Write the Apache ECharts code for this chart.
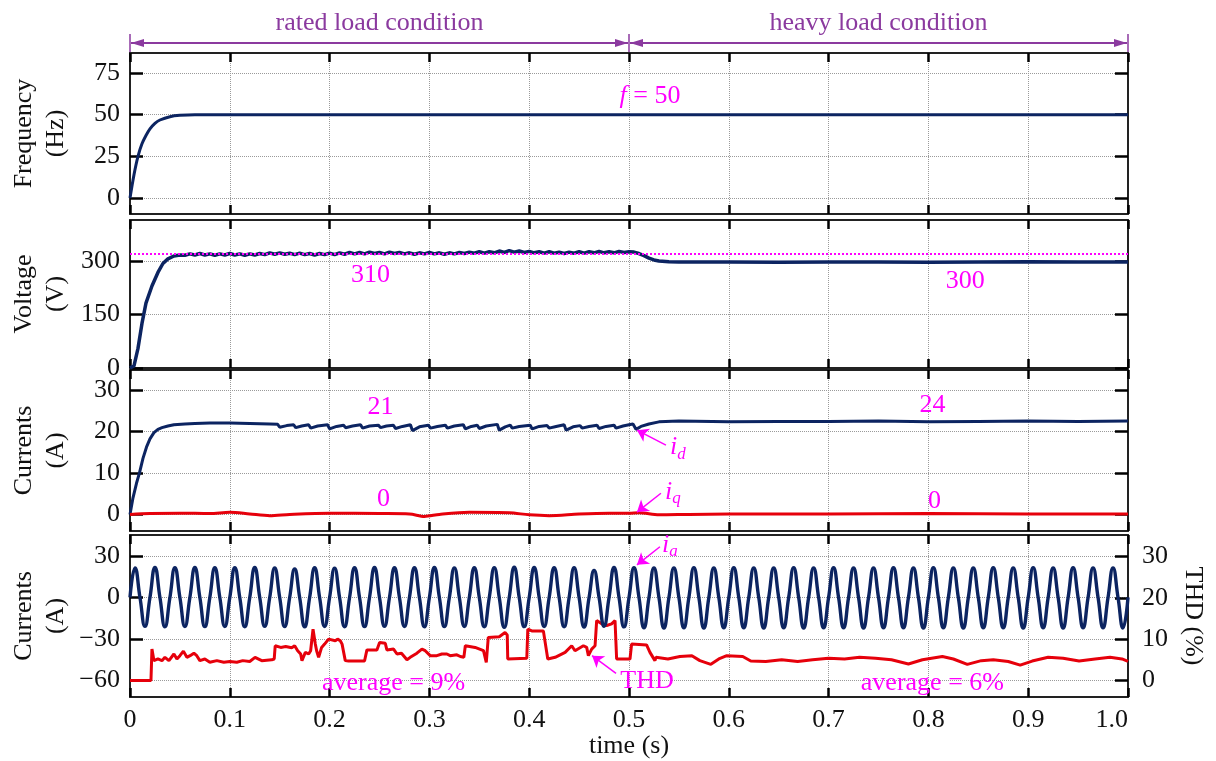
<!DOCTYPE html>
<html>
<head>
<meta charset="utf-8">
<script src="https://cdn.jsdelivr.net/npm/echarts@6/dist/echarts.min.js"></script>
<style>
html, body { margin: 0; padding: 0; background: #fff; }
#main { width: 1216px; height: 761px; }
</style>
</head>
<body>
<div id="main"></div>
<script>
var FONT = '"Liberation Serif", "Times New Roman", serif';
var NAVY = '#0c2461', RED = '#e6000b', MAG = '#ff00ff', PURPLE = '#8b3a9f', INK = '#111';

// load phases (s)
var phaseBounds = [0, 0.5, 1.0];
var phaseNames = ['rated load condition', 'heavy load condition'];

// tick values of each panel
var freqTicks = [0, 25, 50, 75];
var voltTicks = [0, 150, 300];
var dqTicks = [0, 10, 20, 30];
var iaTicks = [-60, -30, 0, 30];
var thdTicks = [0, 10, 20, 30];

// frequency (Hz)
var freqPoints = [[0, 0], [0.004, 14], [0.008, 25], [0.012, 32.5], [0.016, 37.5], [0.02, 41.5], [0.025, 44.8],
  [0.03, 46.8], [0.04, 48.8], [0.05, 49.6], [0.065, 50], [0.1, 50], [0.3, 50], [0.5, 50], [0.7, 50], [1.0, 50]];

// dc voltage (V)
var voltRef = 321;
var voltPoints = [[0, 0], [0.004, 6], [0.008, 55], [0.012, 125], [0.016, 182], [0.022, 230], [0.028, 268],
  [0.033, 293], [0.038, 306], [0.044, 314], [0.05, 317],
  [0.055, 316], [0.06, 320], [0.065, 317], [0.07, 321], [0.075, 317], [0.08, 320], [0.085, 316], [0.09, 320], [0.095, 317], [0.1, 321],
  [0.105, 317], [0.11, 320], [0.115, 316], [0.12, 320], [0.125, 317], [0.13, 321], [0.135, 318], [0.14, 323], [0.145, 319], [0.15, 323],
  [0.155, 319], [0.16, 322], [0.165, 318], [0.17, 322], [0.175, 318], [0.18, 321], [0.185, 317], [0.19, 321], [0.195, 318], [0.2, 322],
  [0.205, 318], [0.21, 323], [0.215, 319], [0.22, 324], [0.225, 320], [0.23, 324], [0.235, 320], [0.24, 325], [0.245, 321], [0.25, 324],
  [0.255, 320], [0.26, 325], [0.265, 321], [0.27, 324], [0.275, 320], [0.28, 323], [0.285, 319], [0.29, 323], [0.295, 320], [0.3, 324],
  [0.305, 320], [0.31, 323], [0.315, 319], [0.32, 323], [0.325, 320], [0.33, 324], [0.335, 321], [0.34, 325], [0.345, 322], [0.35, 326],
  [0.355, 322], [0.36, 326], [0.365, 323], [0.37, 328], [0.375, 324], [0.38, 329], [0.385, 325], [0.39, 328], [0.395, 324], [0.4, 327],
  [0.405, 323], [0.41, 326], [0.415, 322], [0.42, 326], [0.425, 322], [0.43, 325], [0.435, 321], [0.44, 325], [0.445, 322], [0.45, 326],
  [0.455, 322], [0.46, 326], [0.465, 323], [0.47, 327], [0.475, 323], [0.48, 326], [0.485, 323], [0.49, 327], [0.495, 324], [0.5, 326],
  [0.505, 325], [0.51, 321], [0.515, 315], [0.52, 308], [0.525, 303], [0.53, 300], [0.54, 298], [0.55, 297], [0.6, 297.5],
  [0.65, 296.5], [0.7, 297], [0.75, 297.5], [0.8, 296.8], [0.85, 297.2], [0.9, 297.6], [0.95, 296.9], [1.0, 297.2]];

// d-axis current (A)
var idPoints = [[0, 0], [0.003, 4], [0.0065, 7.5], [0.0095, 10], [0.013, 13.5], [0.0165, 16.2], [0.02, 18.2], [0.024, 19.7],
  [0.028, 20.5], [0.032, 20.9], [0.038, 21.3], [0.044, 21.6], [0.055, 21.8], [0.065, 21.9], [0.08, 22.0], [0.1, 22.0], [0.12, 21.9], [0.14, 21.8],
  [0.148, 21.7], [0.150, 21.0], [0.157, 21.4], [0.164, 21.6], [0.166, 20.9], [0.172, 21.3],
  [0.179, 21.6], [0.181, 20.8], [0.188, 21.3], [0.198, 21.6], [0.200, 20.6], [0.207, 21.2],
  [0.214, 21.5], [0.216, 20.9], [0.223, 21.3], [0.231, 21.6], [0.233, 20.8], [0.240, 21.3],
  [0.249, 21.5], [0.251, 20.9], [0.257, 21.3], [0.264, 21.5], [0.266, 20.7], [0.273, 21.2],
  [0.281, 21.6], [0.283, 20.2], [0.290, 21.1], [0.299, 21.5], [0.301, 20.8], [0.308, 21.2],
  [0.316, 21.5], [0.318, 20.8], [0.325, 21.3], [0.334, 21.6], [0.336, 20.6], [0.342, 21.2],
  [0.348, 21.5], [0.350, 20.7], [0.357, 21.3], [0.368, 21.7], [0.370, 20.3], [0.376, 21.1],
  [0.381, 21.5], [0.383, 20.8], [0.390, 21.2], [0.401, 21.5], [0.403, 20.6], [0.410, 21.2],
  [0.418, 21.4], [0.420, 20.8], [0.427, 21.2], [0.435, 21.6], [0.437, 20.3], [0.444, 21.1],
  [0.451, 21.4], [0.453, 20.8], [0.460, 21.2], [0.468, 21.5], [0.470, 20.7], [0.477, 21.2],
  [0.485, 21.5], [0.487, 20.8], [0.494, 21.3], [0.500, 21.6], [0.504, 21.8], [0.507, 20.5], [0.512, 21.2],
  [0.52, 21.8], [0.53, 22.3], [0.55, 22.5], [0.6, 22.3], [0.65, 22.4], [0.7, 22.4], [0.75, 22.5], [0.8, 22.3],
  [0.85, 22.4], [0.9, 22.5], [0.95, 22.4], [1.0, 22.5]];

// q-axis current (A)
var iqPoints = [[0, 0], [0.02, 0.2], [0.05, 0.3], [0.08, 0.2], [0.1, 0.5], [0.12, 0.1], [0.14, -0.3], [0.16, 0.0],
  [0.2, 0.3], [0.25, 0.2], [0.28, 0.1], [0.295, -0.5], [0.31, 0.0], [0.34, 0.5], [0.38, 0.4], [0.4, -0.1], [0.42, -0.3],
  [0.45, 0.1], [0.48, 0.3], [0.5, 0.3], [0.51, 0.4], [0.53, -0.1], [0.56, 0.0], [0.6, 0.1], [0.7, 0.1], [0.8, 0.2],
  [0.9, 0.1], [1.0, 0.1]];

// phase-a current (A), sampled every iaStep seconds
var iaStep = 0.005;
var iaValues = [
  0, 21.4, 0, -20.9, 0, 21.8, 0, -21.2, 0, 21.6, 0, -21.0, 0, 21.7, 0, -21.1, 0, 21.5, 0, -21.0,
  0, 21.6, 0, -21.2, 0, 21.7, 0, -20.9, 0, 21.3, 0, -21.1, 0, 20.6, 0, -21.3, 0, 21.5, 0, -21.0,
  0, 21.2, 0, -21.2, 0, 21.6, 0, -21.1, 0, 21.7, 0, -20.9, 0, 21.5, 0, -21.0, 0, 21.6, 0, -21.2,
  0, 21.8, 0, -21.1, 0, 21.4, 0, -21.0, 0, 21.6, 0, -21.2, 0, 21.5, 0, -21.6, 0, 21.9, 0, -21.1,
  0, 21.7, 0, -21.0, 0, 21.6, 0, -21.2, 0, 21.5, 0, -21.4, 0, 19.6, 0, -20.8, 0, 21.8, 0, -21.3,
  0, 21.5, 0, -22.0, 0, 21.3, 0, -22.1, 0, 21.4, 0, -21.9, 0, 21.6, 0, -22.2, 0, 21.3, 0, -22.0,
  0, 21.5, 0, -21.9, 0, 21.4, 0, -22.1, 0, 21.3, 0, -22.0, 0, 21.6, 0, -22.2, 0, 21.4, 0, -21.9,
  0, 21.5, 0, -22.0, 0, 21.3, 0, -22.1, 0, 21.4, 0, -22.0, 0, 21.5, 0, -21.9, 0, 21.3, 0, -22.2,
  0, 21.6, 0, -22.0, 0, 21.4, 0, -22.1, 0, 21.3, 0, -21.9, 0, 21.5, 0, -22.0, 0, 21.4, 0, -22.1,
  0, 21.6, 0, -22.0, 0, 21.3, 0, -22.2, 0, 21.5, 0, -21.9, 0, 21.4, 0, -22.0, 0, 21.3, 0, -22.1,
  0];

// THD of ia (%)
var thdPoints = [[0, 0], [0.021, 0], [0.022, 7.6], [0.024, 4.8], [0.028, 5.2], [0.032, 4.8], [0.035, 5.6], [0.039, 4.8],
  [0.044, 6.4], [0.047, 5.2], [0.050, 6.0], [0.0535, 7.1], [0.057, 5.6], [0.0602, 6.0], [0.064, 6.6], [0.0669, 6.0],
  [0.070, 4.8], [0.075, 5.2], [0.08, 4.4], [0.087, 4.8], [0.094, 4.4], [0.1, 4.6], [0.107, 4.4], [0.113, 4.8], [0.12, 4.6],
  [0.1253, 5.6], [0.132, 4.8], [0.142, 5.0], [0.1445, 5.2], [0.1455, 8.4], [0.151, 8.0], [0.156, 8.2], [0.162, 7.9],
  [0.165, 8.4], [0.168, 7.2], [0.171, 6.4], [0.1723, 4.8], [0.1757, 6.8], [0.179, 6.4], [0.181, 7.2], [0.1834, 12.4],
  [0.1857, 8.8], [0.187, 7.2], [0.189, 5.6], [0.192, 8.0], [0.195, 8.8], [0.199, 10.0], [0.2007, 10.4], [0.2057, 9.6],
  [0.208, 10.0], [0.2107, 9.6], [0.2125, 8.8], [0.2141, 8.4], [0.2157, 4.8], [0.219, 4.7], [0.235, 4.7], [0.2374, 7.4],
  [0.2474, 7.4], [0.2501, 9.2], [0.2558, 9.0], [0.2574, 7.4], [0.2641, 7.6], [0.2675, 6.4], [0.272, 6.6], [0.2775, 5.0],
  [0.2808, 5.6], [0.2875, 6.6], [0.2925, 7.6], [0.2958, 7.2], [0.3008, 6.0], [0.3075, 6.0], [0.3125, 6.4], [0.3175, 6.4],
  [0.3208, 6.0], [0.3275, 6.2], [0.331, 5.8], [0.3345, 5.6], [0.336, 8.4], [0.3458, 8.0], [0.3542, 7.2], [0.357, 4.4],
  [0.359, 10.4], [0.37, 10.6], [0.3758, 11.6], [0.378, 11.0], [0.3785, 5.2], [0.3976, 5.4], [0.3986, 12.4], [0.4026, 12.0],
  [0.41, 12.0], [0.4142, 12.0], [0.4159, 12.3], [0.4186, 5.2], [0.426, 5.6], [0.436, 6.8], [0.4426, 8.4], [0.4459, 7.2],
  [0.4543, 8.4], [0.4576, 8.0], [0.4593, 6.0], [0.4626, 7.6], [0.466, 8.4], [0.4676, 14.5], [0.4726, 13.7], [0.4776, 13.3],
  [0.4826, 13.7], [0.486, 14.5], [0.4876, 5.2], [0.501, 5.2], [0.5026, 8.8], [0.5176, 8.6], [0.521, 6.8], [0.526, 4.8],
  [0.527, 5.6], [0.539, 5.2], [0.551, 5.8], [0.563, 6.0], [0.571, 4.8], [0.582, 3.9], [0.59, 5.2], [0.598, 6.0],
  [0.614, 5.8], [0.622, 4.7], [0.637, 4.6], [0.653, 5.0], [0.669, 4.6], [0.684, 5.0], [0.70, 5.4], [0.716, 5.2],
  [0.731, 5.6], [0.747, 5.4], [0.763, 5.0], [0.78, 4.0], [0.794, 5.0], [0.814, 5.8], [0.825, 5.2], [0.839, 3.9],
  [0.853, 4.8], [0.865, 5.0], [0.88, 4.6], [0.892, 3.7], [0.904, 4.7], [0.92, 5.6], [0.935, 5.4], [0.951, 4.7],
  [0.967, 5.2], [0.982, 5.6], [0.994, 5.2], [1.0, 4.6]];

var iaPoints = iaValues.map(function (v, i) { return [+(i * iaStep).toFixed(4), v]; });

var panels = [
  { top: 53, height: 161, name: 'Frequency\n(Hz)', min: -9.6, max: 87, ticks: freqTicks },
  { top: 220, height: 148, name: 'Voltage\n(V)', min: 0, max: 415, ticks: voltTicks },
  { top: 370, height: 161, name: 'Currents\n(A)', min: -4, max: 34.8, ticks: dqTicks },
  { top: 535, height: 162, name: 'Currents\n(A)', min: -72, max: 45.2, ticks: iaTicks }
];

var textStyle = { color: INK, fontFamily: FONT, fontSize: 26 };
var gridLine = { show: true, lineStyle: { color: '#9a9a9a', type: 'dotted', width: 1 } };
function frame() { return { show: true, onZero: false, lineStyle: { color: '#222', width: 2 } }; }
function ticks(len, values) {
  var t = { show: true, inside: true, length: len, lineStyle: { color: '#000', width: 2.5 } };
  if (values) t.customValues = values;
  return t;
}
function minus(v) { return String(v).replace('-', '\u2212'); }

var grids = [], xAxes = [], yAxes = [];
panels.forEach(function (p, g) {
  var last = g === panels.length - 1;
  grids.push({ left: 130, right: 88, top: p.top, height: p.height, outerBoundsMode: 'none' });
  xAxes.push({
    type: 'value', gridIndex: g, min: 0, max: 1.0, interval: 0.1, position: 'bottom',
    axisLine: frame(), axisTick: ticks(9),
    axisLabel: Object.assign({ show: last, margin: 10, alignMaxLabel: 'right',
      formatter: function (v) { return v === 0 ? '0' : v.toFixed(1); } }, textStyle),
    splitLine: gridLine,
    name: last ? 'time (s)' : '', nameLocation: 'middle', nameGap: 36, nameTextStyle: textStyle, nameMoveOverlap: false
  });
  xAxes.push({
    type: 'value', gridIndex: g, min: 0, max: 1.0, interval: 0.1, position: 'top',
    axisLine: frame(), axisTick: ticks(9),
    axisLabel: { show: false }, splitLine: { show: false }
  });
  yAxes.push({
    type: 'value', gridIndex: g, min: p.min, max: p.max, position: 'left',
    axisLine: frame(), axisTick: ticks(13, p.ticks),
    axisLabel: Object.assign({ margin: 10, customValues: p.ticks, formatter: minus }, textStyle),
    splitLine: gridLine,
    name: p.name, nameLocation: 'middle', nameRotate: 90, nameGap: 58, nameMoveOverlap: false,
    nameTextStyle: Object.assign({ lineHeight: 32 }, textStyle)
  });
  if (last) {
    yAxes.push({
      type: 'value', gridIndex: g, min: -4, max: 35.2, position: 'right',
      axisLine: frame(), axisTick: ticks(13, thdTicks),
      axisLabel: Object.assign({ margin: 14, customValues: thdTicks }, textStyle),
      splitLine: { show: false },
      name: 'THD (%)', nameLocation: 'middle', nameRotate: -90, nameGap: 52, nameMoveOverlap: false,
      nameTextStyle: textStyle
    });
  } else {
    yAxes.push({
      type: 'value', gridIndex: g, min: p.min, max: p.max, position: 'right',
      axisLine: frame(), axisTick: ticks(13, p.ticks),
      axisLabel: { show: false }, splitLine: { show: false }
    });
  }
});

var rich = {
  it: { fontStyle: 'italic', fontFamily: FONT, fontSize: 26, color: MAG },
  sub: { fontStyle: 'italic', fontFamily: FONT, fontSize: 17, color: MAG, padding: [14, 0, 0, 0] }
};

function note(t, y, text) {
  return { coord: [t, y], symbol: 'rect', symbolSize: 1, itemStyle: { color: 'rgba(0,0,0,0)' },
    label: { show: true, position: 'inside', formatter: text, color: MAG, fontFamily: FONT, fontSize: 26, rich: rich } };
}
function notes(list) {
  return { silent: true, animation: false, data: list };
}
function arrows(list) {
  return { silent: true, animation: false, symbol: ['none', 'arrow'], symbolSize: 11, label: { show: false },
    lineStyle: { color: MAG, width: 1.5, type: 'solid' },
    data: list.map(function (a) { return [{ coord: [a[0], a[1]] }, { coord: [a[2], a[3]] }]; }) };
}

var option = {
  animation: false,
  backgroundColor: '#fff',
  grid: grids,
  xAxis: xAxes,
  yAxis: yAxes,
  series: [
    { name: 'f', type: 'line', xAxisIndex: 0, yAxisIndex: 0, data: freqPoints, smooth: 0.3, showSymbol: false,
      lineStyle: { color: NAVY, width: 3 },
      markPoint: notes([note(0.521, 60.8, '{it|f} = 50')]) },
    { name: 'Vdc', type: 'line', xAxisIndex: 2, yAxisIndex: 2, data: voltPoints, showSymbol: false,
      lineStyle: { color: NAVY, width: 3.5 },
      markLine: { silent: true, animation: false, symbol: 'none', label: { show: false },
        lineStyle: { color: MAG, type: 'dotted', width: 2 }, data: [{ yAxis: voltRef }] },
      markPoint: notes([note(0.241, 260, '310'), note(0.837, 243, '300')]) },
    { name: 'id', type: 'line', xAxisIndex: 4, yAxisIndex: 4, data: idPoints, showSymbol: false,
      lineStyle: { color: NAVY, width: 3 },
      markPoint: notes([note(0.251, 25.9, '21'), note(0.804, 26.3, '24'), note(0.549, 16.2, '{it|i}{sub|d}')]),
      markLine: arrows([[0.537, 16.7, 0.508, 20.3]]) },
    { name: 'iq', type: 'line', xAxisIndex: 4, yAxisIndex: 4, data: iqPoints, showSymbol: false, smooth: 0.3,
      lineStyle: { color: RED, width: 3 },
      markPoint: notes([note(0.254, 3.7, '0'), note(0.806, 3.2, '0'), note(0.544, 5.4, '{it|i}{sub|q}')]),
      markLine: arrows([[0.532, 5.1, 0.508, 0.55]]) },
    { name: 'THD', type: 'line', xAxisIndex: 6, yAxisIndex: 7, data: thdPoints, showSymbol: false,
      lineStyle: { color: RED, width: 3 },
      markPoint: notes([note(0.518, -0.2, 'THD'), note(0.264, -0.7, 'average = 9%'), note(0.804, -0.7, 'average = 6%')]),
      markLine: arrows([[0.487, 1.7, 0.463, 6.0]]) },
    { name: 'ia', type: 'line', xAxisIndex: 6, yAxisIndex: 6, data: iaPoints, smooth: 0.5, showSymbol: false,
      lineStyle: { color: NAVY, width: 3.4 },
      markPoint: notes([note(0.541, 38.1, '{it|i}{sub|a}')]),
      markLine: arrows([[0.531, 36.7, 0.508, 23.6]]) }
  ]
};

var chart = echarts.init(document.getElementById('main'));
chart.setOption(option);

// load-phase arrows above the first panel, placed through the time axis
var xs = phaseBounds.map(function (t) { return chart.convertToPixel({ xAxisIndex: 0 }, t); });
var top0 = panels[0].top, yArrow = 43;
var elements = [];
xs.forEach(function (x) {
  elements.push({ type: 'line', silent: true, shape: { x1: x, y1: 34, x2: x, y2: top0 },
    style: { stroke: PURPLE, lineWidth: 1.5 } });
});
for (var i = 0; i < phaseNames.length; i++) {
  var a = xs[i] + 1, b = xs[i + 1] - 1;
  elements.push({ type: 'line', silent: true, shape: { x1: a, y1: yArrow, x2: b, y2: yArrow },
    style: { stroke: PURPLE, lineWidth: 2 } });
  elements.push({ type: 'polygon', silent: true, shape: { points: [[a, yArrow], [a + 13, yArrow - 4], [a + 13, yArrow + 4]] },
    style: { fill: PURPLE } });
  elements.push({ type: 'polygon', silent: true, shape: { points: [[b, yArrow], [b - 13, yArrow - 4], [b - 13, yArrow + 4]] },
    style: { fill: PURPLE } });
  elements.push({ type: 'text', silent: true, x: (xs[i] + xs[i + 1]) / 2, y: 23,
    style: { text: phaseNames[i], fill: PURPLE, font: '26px ' + FONT, align: 'center', verticalAlign: 'middle',
      textAlign: 'center', textVerticalAlign: 'middle' } });
}
chart.setOption({ graphic: elements });
</script>
</body>
</html>
